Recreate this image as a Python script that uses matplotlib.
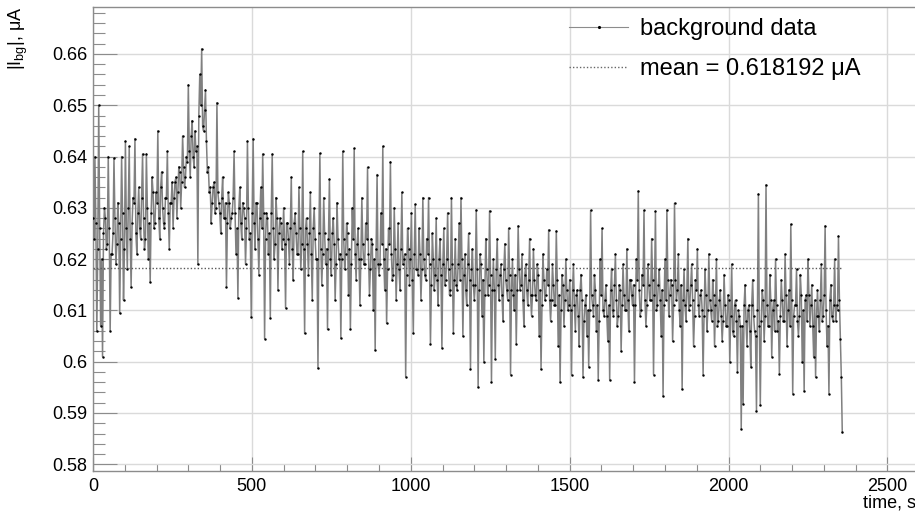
import numpy as np
import matplotlib
matplotlib.use('Agg')
import matplotlib.pyplot as plt
from matplotlib.ticker import MultipleLocator, FuncFormatter
from matplotlib.lines import Line2D

plt.rcParams['font.family'] = ['Liberation Sans', 'DejaVu Sans']

# background current, in nA.
# outer_nA: samples at t = 0, 6, 12, ... s (the swings of the trace)
# inner_nA: samples at t = 3, 9, 15, ... s (the dense middle of the band)
time_step = 3
outer_nA = [
    628, 640, 606, 650, 607, 601, 630, 622, 640, 606,
    621, 639.7, 619, 631, 609.5, 640, 612, 643, 618, 642,
    614.5, 632, 643.5, 621, 634, 624, 640.5, 622, 640.5, 620,
    615.5, 636, 626, 633, 645, 624, 637, 627, 632, 641,
    622, 631, 626, 635, 628, 638, 630, 644, 634, 640,
    654, 636, 647, 638, 641, 619, 656, 661, 645, 653,
    637, 633, 627, 634, 629, 650.5, 631, 625, 636, 628,
    614.5, 633, 626, 629, 641, 621, 612.5, 634, 624, 630,
    619, 643, 624, 608.8, 643.5, 622, 631, 617, 634, 640.5,
    604.5, 629, 621, 608.5, 640.5, 620, 632, 614, 628, 622,
    630, 610.5, 627, 619, 636, 616, 629, 621, 634, 618,
    641, 605.5, 628, 617, 633, 612, 630, 620, 598.7, 640.6,
    615, 632, 619, 606.3, 635.6, 617, 628, 612, 631, 620,
    604.6, 641, 618, 627, 613, 606.3, 630, 641.6, 616, 626,
    611, 632, 619, 627, 637.9, 613, 624, 610, 602.2, 636.5,
    617, 629, 642, 614, 607.5, 626, 639, 616, 630, 612,
    627, 614, 633, 620, 597.1, 626, 615, 629, 605.5, 630.7,
    618, 626, 612, 632, 617, 624, 632, 603.5, 625, 614,
    628, 611, 624, 602.7, 626, 616, 629, 613, 632, 605.5,
    624, 614, 627, 632, 605, 621, 611, 625, 598.5, 622,
    612, 629.6, 595, 621, 609, 600, 624, 613, 629.4, 596,
    620, 600.5, 624, 612, 619, 608, 623, 614, 626, 597.5,
    620, 610, 603.5, 626.5, 614, 621, 607, 619, 611, 624,
    609, 622, 613, 619, 605, 598.5, 621, 612, 618, 625.7,
    608, 619, 611, 625.5, 603, 596, 617, 607, 620, 610,
    616, 597.5, 619, 606, 614, 603, 617, 597, 611, 605,
    599, 629.5, 611, 617, 606, 596.5, 620, 626, 609, 615,
    604, 596.5, 618, 609, 621, 607, 615, 602, 619, 610,
    622, 606, 616, 611, 596, 620, 633.3, 609, 617, 629.5,
    607, 619, 612, 624, 597.5, 629.3, 611, 618, 605, 593.3,
    620, 629.6, 609, 616, 604, 630.9, 612, 621, 607, 594.6,
    618, 608, 624, 611, 619, 603, 616, 622, 609, 614,
    597.5, 618, 606, 621, 610, 616, 603, 620, 608, 614,
    604, 617, 607, 613, 600, 619, 605, 612, 598, 609,
    586.9, 591.8, 615, 603, 611, 599, 616, 606, 590.3, 632.7,
    591.5, 614, 604, 634.5, 607, 617, 601, 612, 620, 606,
    597.7, 616, 608, 621, 603, 614, 626.8, 593.8, 611, 618,
    605, 617, 600, 594.3, 613, 620, 607, 615, 601, 597,
    614, 606, 619, 609, 626.5, 603, 593.8, 615, 608, 620,
    611, 624.5, 604.5, 586.2,
]
inner_nA = [
    624, 627, 622, 626, 620, 625, 628, 623, 626, 621,
    625, 628, 623, 627, 624, 629, 622, 626, 630, 624,
    627, 631, 625, 629, 626, 632, 628, 624, 630, 627,
    629, 633, 627, 631, 628, 634, 630, 626, 632, 629,
    631, 635, 632, 636, 633, 637, 635, 638, 636, 639,
    641, 644, 640, 645, 642, 648, 650, 646, 649, 643,
    638, 634, 631, 635, 630, 633, 629, 632, 628, 631,
    627, 631, 628, 632, 629, 626, 630, 627, 631, 628,
    626, 630, 625, 629, 627, 631, 624, 628, 626, 629,
    624, 628, 625, 629, 626, 623, 628, 625, 627, 624,
    623, 627, 624, 626, 622, 627, 625, 621, 626, 623,
    622, 626, 623, 625, 621, 626, 624, 620, 625, 622,
    621, 625, 622, 624, 620, 625, 623, 619, 624, 621,
    620, 624, 621, 625, 622, 619, 624, 621, 623, 620,
    620, 623, 619, 624, 621, 618, 623, 620, 622, 619,
    619, 623, 620, 622, 618, 623, 621, 617, 622, 619,
    618, 622, 619, 621, 617, 622, 620, 616, 621, 618,
    617, 621, 618, 620, 616, 621, 619, 615, 620, 617,
    616, 620, 617, 619, 615, 620, 618, 614, 619, 616,
    615, 619, 616, 620, 617, 614, 619, 616, 618, 615,
    615, 618, 614, 619, 616, 613, 618, 615, 617, 614,
    614, 618, 615, 617, 613, 618, 616, 612, 617, 614,
    613, 617, 614, 618, 615, 612, 617, 614, 616, 613,
    613, 616, 612, 617, 614, 611, 616, 613, 615, 612,
    612, 615, 611, 616, 613, 610, 615, 612, 614, 611,
    610, 614, 611, 613, 609, 614, 612, 608, 613, 610,
    610, 613, 609, 614, 611, 608, 613, 610, 612, 609,
    611, 614, 610, 615, 612, 609, 614, 611, 613, 610,
    612, 616, 613, 615, 611, 616, 614, 610, 615, 612,
    611, 615, 612, 616, 613, 610, 615, 612, 614, 611,
    612, 616, 613, 615, 611, 616, 614, 610, 615, 612,
    611, 614, 610, 615, 612, 609, 614, 611, 613, 610,
    609, 613, 610, 612, 608, 613, 611, 607, 612, 609,
    608, 611, 607, 612, 609, 606, 611, 608, 610, 607,
    607, 611, 608, 610, 606, 611, 609, 605, 610, 607,
    608, 612, 609, 611, 607, 612, 610, 606, 611, 608,
    609, 612, 608, 613, 610, 607, 612, 609, 611, 608,
    609, 613, 610, 612, 608, 613, 611, 607, 612, 609,
    609, 612, 608, 613, 610, 607, 612, 609, 611, 608,
    610, 612, 597,
]
mean_uA = 0.618192

# interleave the two readings into one trace, convert to uA
I_bg = np.empty(len(outer_nA) + len(inner_nA))
I_bg[0::2] = outer_nA
I_bg[1::2] = inner_nA
I_bg = I_bg / 1000.0
time_s = np.arange(len(I_bg)) * time_step

fig = plt.figure(figsize=(9.15, 5.13), dpi=100)
ax = fig.add_axes([93 / 915, 42 / 513, 823 / 915, 464 / 513])

# data: grey line through the points, small black dots
ax.plot(time_s, I_bg, color='0.5', lw=1.1, zorder=3)
ax.plot(time_s, I_bg, ls='none', marker='.', ms=1.5, color='k', zorder=4)
ax.plot([time_s[0], time_s[-1]], [mean_uA, mean_uA], color='0.35', lw=1.0,
        ls=(0, (1, 1.5)), zorder=5)

ax.set_xlim(0, 2590)
ax.set_ylim(0.57869, 0.66916)

ax.xaxis.set_major_locator(MultipleLocator(500))
ax.xaxis.set_minor_locator(MultipleLocator(100))
ax.yaxis.set_major_locator(MultipleLocator(0.01))
ax.yaxis.set_minor_locator(MultipleLocator(0.002))
ax.xaxis.set_major_formatter(FuncFormatter(lambda v, p: '%d' % round(v)))
ax.yaxis.set_major_formatter(FuncFormatter(lambda v, p: ('%.3f' % v).rstrip('0').rstrip('.')))

ax.grid(True, which='major', color='#dadada', lw=1.0)
ax.set_axisbelow(True)

for s in ax.spines.values():
    s.set_color('0.55')
    s.set_linewidth(1.0)

ax.tick_params(axis='x', which='major', direction='in', length=10, width=0.8,
               color='0.55', pad=5, labelsize=13)
ax.tick_params(axis='x', which='minor', direction='in', length=5, width=0.8, color='0.55')
ax.tick_params(axis='y', which='major', direction='in', length=17, width=0.8,
               color='0.55', pad=4, labelsize=13)
ax.tick_params(axis='y', which='minor', direction='in', length=8.6, width=0.8, color='0.55')

ax.set_xlabel('time, s', loc='right', fontsize=13, labelpad=0)
ax.set_ylabel(r'$\mathregular{|I_{bg}|}$, μA', loc='top', fontsize=13)
ax.yaxis.set_label_coords(-0.077, 1.0)

h_data = Line2D([], [], color='0.55', lw=0.8, marker='.', ms=2.5, mfc='k', mec='k')
h_mean = Line2D([], [], color='0.4', lw=1.0, ls=(0, (1, 1.5)))
ax.legend([h_data, h_mean], ['background data', f'mean = {mean_uA} μA'],
          loc='upper left', bbox_to_anchor=(569 / 915, 1 - 18 / 513),
          bbox_transform=fig.transFigure, frameon=False, fontsize=17,
          handlelength=2.5, handletextpad=0.5, labelspacing=0.78,
          borderpad=0, borderaxespad=0, numpoints=1)

fig.savefig('out.png', dpi=100)
